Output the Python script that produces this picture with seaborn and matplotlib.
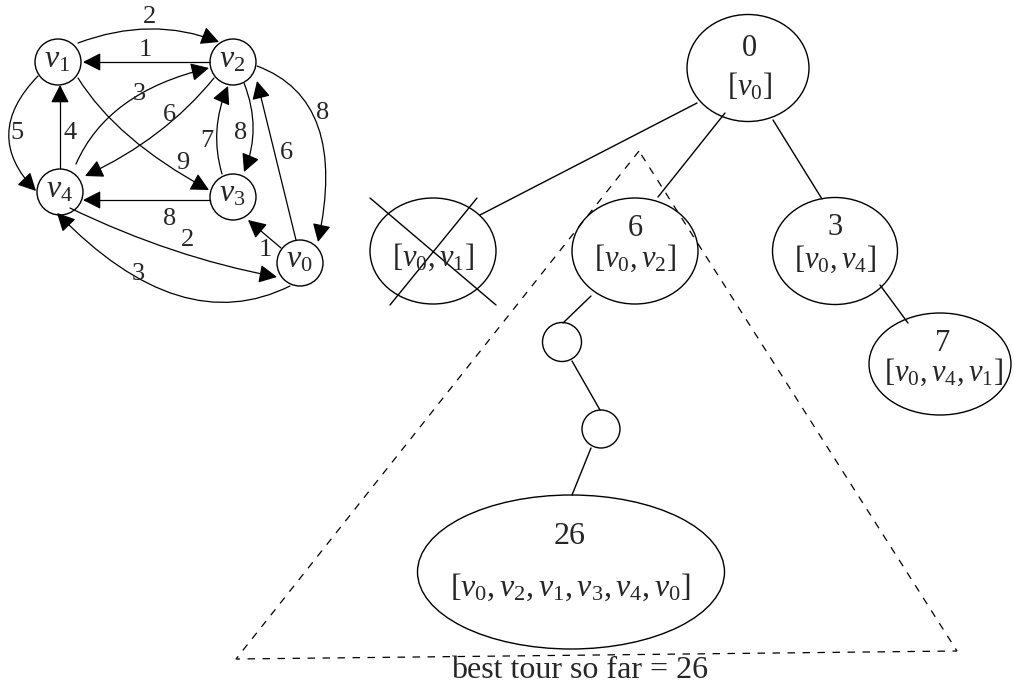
import matplotlib
matplotlib.use("Agg")
import matplotlib.pyplot as plt
import seaborn as sns
from matplotlib.patches import Circle, Ellipse, FancyArrowPatch, Polygon
from matplotlib.path import Path


# weighted digraph (left)
GRAPH_NODES = ["v0", "v1", "v2", "v3", "v4"]
EDGE_SRC = ["v1", "v2", "v4", "v2", "v4", "v1", "v1", "v3", "v2", "v3", "v0", "v2", "v0", "v4", "v0"]
EDGE_DST = ["v2", "v1", "v2", "v4", "v1", "v4", "v3", "v2", "v3", "v4", "v2", "v0", "v3", "v0", "v4"]
EDGE_WEIGHT = [2, 1, 3, 6, 4, 5, 9, 7, 8, 8, 6, 8, 1, 2, 3]

# branch-and-bound tree (right)
TREE_COST = ["0", "", "6", "3", "7", "", "", "26"]
TREE_PATH = [[0], [0, 1], [0, 2], [0, 4], [0, 4, 1], None, None, [0, 2, 1, 3, 4, 0]]
TREE_PARENT = [None, 0, 0, 0, 3, 2, 5, 6]
PRUNED = [1]
BEST_TOUR = 26

# layout in pixel units (x right, y down)
NODE_XY = {"v0": (300, 263), "v1": (58, 62), "v2": (233, 62), "v3": (233, 197), "v4": (60, 192)}
NODE_R = 23
EDGE_GEOM = [
    ((78, 43), (150, 29), (219, 42), (150, 17)),
    ((210, 62), None, (83, 62), (145, 50)),
    ((76, 164), (125, 104), (209, 68), (139, 94)),
    ((214, 78), (157, 133), (85, 176), (169, 115)),
    ((60, 168), None, (60, 85), (70, 133)),
    ((38, 76), (9, 134), (36, 191), (17, 133)),
    ((78, 78), (130, 137), (209, 190), (183, 163)),
    ((222, 174), (217, 130), (228, 86), (207, 141)),
    ((244, 83), (253, 128), (244, 172), (241, 133)),
    ((210, 200), None, (83, 200), (170, 219)),
    ((296, 240), None, (257, 81), (286, 153)),
    ((257, 66), (318, 127), (318, 242), (323, 113)),
    ((281, 248), None, (248, 220), (265, 250)),
    ((70, 208), (173, 250), (277, 277), (187, 240)),
    ((290, 286), (177, 295), (57, 213), (138, 274)),
]
TREE_SHAPE = [
    ((748, 68), 122, 107),
    ((433, 251), 126, 106),
    ((635, 251), 126, 106),
    ((835, 251), 125, 107),
    ((940, 364), 142, 102),
    ((562, 342), 39, 39),
    ((601, 429), 38, 38),
    ((571, 572), 307, 154),
]
TREE_EDGE_SEG = {
    1: ((697, 103), (480, 215)),
    2: ((725, 113), (658, 197)),
    3: ((773, 120), (822, 199)),
    4: ((880, 285), (908, 323)),
    5: ((591, 296), (563, 323)),
    6: ((572, 361), (600, 410)),
    7: ((591, 448), (572, 495)),
}
TEXT_BASE = [(56, 95), (None, 266), (236, 267), (235, 268), (351, 381), None, None, (544, 596)]
TEXT_X = [749, 433, 635, 835, 943, None, None, 570]
CROSS = [((370, 198), (496, 305)), ((390, 305), (477, 198))]
TRIANGLE = [(639, 151), (236, 659), (957, 651)]


def path_label(idx):
    inner = ", ".join(f"v_{i}" for i in idx)
    return f"$[{inner}]$"


def draw_graph(ax):
    for name in GRAPH_NODES:
        x, y = NODE_XY[name]
        ax.add_patch(Circle((x, y), NODE_R, fill=False, lw=1.0, ec="black"))
        ax.text(x - 1, y + 5, f"$v_{name[1]}$", ha="center", va="baseline", fontsize=23)

    for (src, dst, w), (p0, mid, p1, lab) in zip(zip(EDGE_SRC, EDGE_DST, EDGE_WEIGHT), EDGE_GEOM):
        if mid is None:
            path = Path([p0, p1], [Path.MOVETO, Path.LINETO])
        else:
            ctrl = (2 * mid[0] - (p0[0] + p1[0]) / 2, 2 * mid[1] - (p0[1] + p1[1]) / 2)
            path = Path([p0, ctrl, p1], [Path.MOVETO, Path.CURVE3, Path.CURVE3])
        arrow = FancyArrowPatch(
            path=path,
            arrowstyle="-|>,head_length=0.55,head_width=0.28",
            mutation_scale=20,
            lw=0.9,
            color="black",
        )
        ax.add_patch(arrow)
        ax.text(lab[0], lab[1], str(w), ha="center", va="center", fontsize=19)


def draw_tree(ax):
    tri = Polygon(TRIANGLE, closed=True, fill=False, ec="black", lw=0.9, ls=(0, (6, 6)))
    ax.add_patch(tri)

    for child, (a, b) in TREE_EDGE_SEG.items():
        ax.plot([a[0], b[0]], [a[1], b[1]], color="black", lw=1.0)

    for i, ((cx, cy), w, h) in enumerate(TREE_SHAPE):
        ax.add_patch(Ellipse((cx, cy), w, h, fill=False, ec="black", lw=1.0))
        if TEXT_BASE[i] is None:
            continue
        cost_y, path_y = TEXT_BASE[i]
        size = 22 if i != 7 else 23
        if TREE_COST[i]:
            ax.text(TEXT_X[i], cost_y, TREE_COST[i], ha="center", va="baseline", fontsize=size)
        ax.text(TEXT_X[i], path_y, path_label(TREE_PATH[i]), ha="center", va="baseline", fontsize=size)

    for a, b in CROSS:
        ax.plot([a[0], b[0]], [a[1], b[1]], color="black", lw=1.0)

    ax.text(580, 678, f"best tour so far = {BEST_TOUR}", ha="center", va="baseline", fontsize=23)


def main():
    sns.set_theme(style="white")
    plt.rcParams["font.family"] = ["Liberation Serif", "DejaVu Serif"]
    plt.rcParams["mathtext.fontset"] = "custom"
    plt.rcParams["mathtext.rm"] = "Liberation Serif"
    plt.rcParams["mathtext.it"] = "Liberation Serif:italic"

    fig = plt.figure(figsize=(10.14, 6.96), dpi=100)
    ax = fig.add_axes([0, 0, 1, 1])
    ax.set_xlim(0, 1014)
    ax.set_ylim(696, 0)
    ax.axis("off")

    draw_graph(ax)
    draw_tree(ax)

    fig.savefig("out.png", dpi=100, facecolor="white")
    plt.close(fig)


if __name__ == "__main__":
    main()
